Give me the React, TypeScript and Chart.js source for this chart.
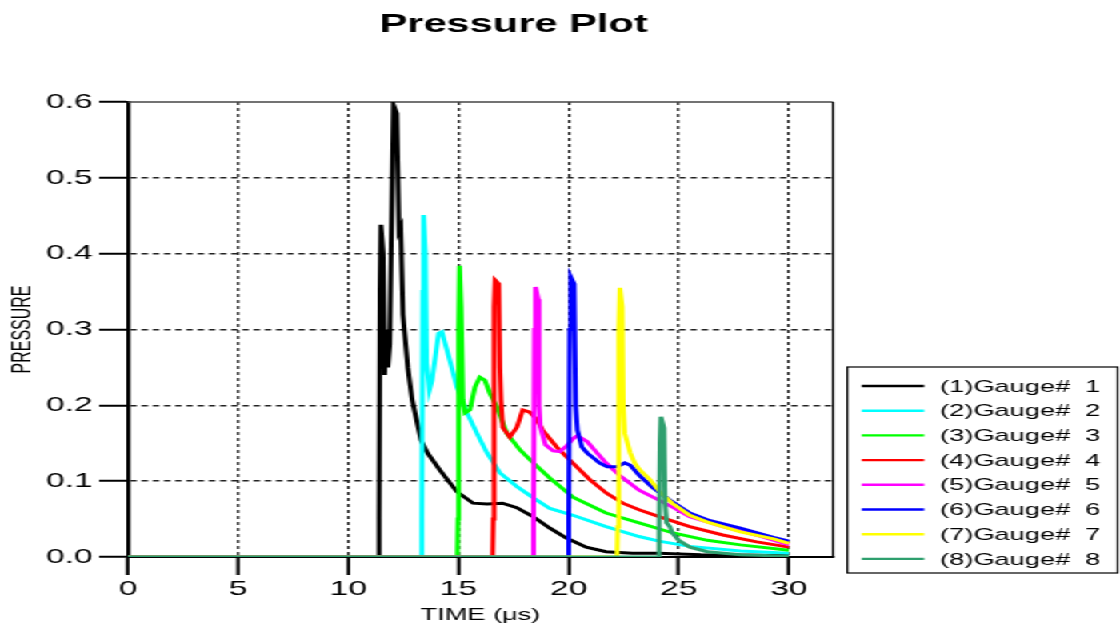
import React, { useEffect, useRef } from 'react';
import { Chart, registerables } from 'chart.js';

Chart.register(...registerables);

const TITLE = 'Pressure Plot';
const X_TITLE = 'TIME (μs)';
const Y_TITLE = 'PRESSURE';
const X_MIN = 0;
const X_MAX = 32;
const X_STEP = 5;
const Y_MIN = 0;
const Y_MAX = 0.6;
const Y_STEP = 0.1;

const GAUGE_LABELS = [
  '(1)Gauge#  1',
  '(2)Gauge#  2',
  '(3)Gauge#  3',
  '(4)Gauge#  4',
  '(5)Gauge#  5',
  '(6)Gauge#  6',
  '(7)Gauge#  7',
  '(8)Gauge#  8',
];
const GAUGE_COLORS = ['#000000', '#00FFFF', '#00FF00', '#FF0000', '#FF00FF', '#0000FF', '#FFFF00', '#2E9F6E'];

const g1Time = [0, 11.36, 11.4, 11.44, 11.48, 11.58, 11.65, 11.72, 11.8, 11.88, 11.95, 12.05, 12.2, 12.3, 12.38, 12.48, 12.7, 12.9, 13.3, 13.6, 14.15, 14.93, 15.66, 16.3, 17.0, 17.65, 18.4, 19.15, 19.9, 20.8, 21.7, 22.9, 24.1, 26.0, 30.0];
const g1Pressure = [0, 0, 0.05, 0.35, 0.438, 0.4, 0.24, 0.3, 0.25, 0.28, 0.417, 0.596, 0.585, 0.43, 0.435, 0.32, 0.25, 0.207, 0.154, 0.137, 0.115, 0.086, 0.071, 0.07, 0.071, 0.065, 0.053, 0.038, 0.025, 0.013, 0.007, 0.005, 0.005, 0.003, 0.002];

const g2Time = [0, 13.3, 13.34, 13.38, 13.42, 13.5, 13.55, 13.68, 13.8, 14.1, 14.25, 14.6, 14.93, 15.39, 15.84, 16.3, 16.88, 17.65, 18.4, 19.15, 20.2, 21.7, 23.2, 24.1, 25.5, 27.8, 30.0];
const g2Pressure = [0, 0, 0.05, 0.35, 0.451, 0.4, 0.256, 0.22, 0.233, 0.295, 0.297, 0.26, 0.224, 0.19, 0.163, 0.137, 0.111, 0.093, 0.078, 0.064, 0.055, 0.04, 0.027, 0.021, 0.014, 0.008, 0.005];

const g3Time = [0, 14.95, 14.98, 15.01, 15.05, 15.12, 15.2, 15.3, 15.52, 15.75, 15.97, 16.2, 16.42, 16.74, 17.2, 17.8, 18.4, 19.15, 20.2, 21.7, 23.2, 24.7, 26.3, 27.8, 30.0];
const g3Pressure = [0, 0, 0.05, 0.3, 0.384, 0.33, 0.207, 0.19, 0.194, 0.224, 0.237, 0.233, 0.216, 0.198, 0.163, 0.141, 0.124, 0.104, 0.079, 0.058, 0.045, 0.032, 0.022, 0.016, 0.009];

const g4Time = [0, 16.55, 16.58, 16.62, 16.66, 16.83, 16.88, 16.93, 17.01, 17.33, 17.65, 17.92, 18.24, 18.56, 18.83, 19.46, 20.19, 20.96, 21.73, 22.46, 23.23, 24.14, 25.5, 27.0, 28.54, 30.0];
const g4Pressure = [0, 0, 0.05, 0.33, 0.365, 0.36, 0.25, 0.207, 0.171, 0.158, 0.171, 0.194, 0.191, 0.181, 0.167, 0.145, 0.124, 0.102, 0.084, 0.071, 0.062, 0.053, 0.04, 0.029, 0.02, 0.013];

const g5Time = [0, 18.38, 18.41, 18.45, 18.5, 18.62, 18.66, 18.72, 18.95, 19.3, 19.6, 19.9, 20.2, 20.4, 20.85, 21.3, 21.7, 22.3, 23.2, 24.1, 24.7, 25.5, 27.0, 28.5, 30.0];
const g5Pressure = [0, 0, 0.05, 0.3, 0.356, 0.34, 0.2, 0.171, 0.148, 0.14, 0.139, 0.146, 0.156, 0.16, 0.152, 0.137, 0.124, 0.108, 0.088, 0.075, 0.066, 0.053, 0.04, 0.029, 0.016];

const g6Time = [0, 19.98, 20.01, 20.05, 20.1, 20.25, 20.32, 20.4, 20.6, 20.85, 21.15, 21.4, 21.75, 22.2, 22.55, 22.8, 23.2, 23.8, 24.7, 25.5, 26.3, 27.8, 29.3, 30.0];
const g6Pressure = [0, 0, 0.05, 0.3, 0.369, 0.36, 0.2, 0.167, 0.145, 0.137, 0.13, 0.124, 0.119, 0.119, 0.124, 0.121, 0.108, 0.092, 0.073, 0.058, 0.049, 0.038, 0.026, 0.021];

const g7Time = [0, 22.2, 22.23, 22.28, 22.33, 22.43, 22.48, 22.55, 22.8, 23.0, 23.23, 23.7, 24.14, 24.7, 25.5, 26.3, 27.8, 29.3, 30.0];
const g7Pressure = [0, 0, 0.04, 0.3, 0.355, 0.33, 0.2, 0.163, 0.137, 0.124, 0.115, 0.102, 0.086, 0.071, 0.055, 0.046, 0.033, 0.024, 0.018];

const g8Time = [0, 24.08, 24.11, 24.15, 24.19, 24.33, 24.38, 24.45, 24.6, 24.7, 25.0, 25.5, 26.3, 27.8, 30.0];
const g8Pressure = [0, 0, 0.03, 0.15, 0.185, 0.17, 0.07, 0.045, 0.04, 0.032, 0.022, 0.013, 0.007, 0.003, 0.001];

const SERIES_TIME = [g1Time, g2Time, g3Time, g4Time, g5Time, g6Time, g7Time, g8Time];
const SERIES_PRESSURE = [g1Pressure, g2Pressure, g3Pressure, g4Pressure, g5Pressure, g6Pressure, g7Pressure, g8Pressure];

// Canvas is drawn narrow and stretched horizontally, as in the reference picture.
const CANVAS_W = 700;
const CANVAS_H = 630;
const STRETCH_X = 1.6;
const FONT = "'Liberation Sans', Arial, Helvetica, sans-serif";

const zip = (t: number[], p: number[]) => {
  const n = Math.min(t.length, p.length);
  const out: { x: number; y: number }[] = [];
  for (let i = 0; i < n; i++) out.push({ x: t[i], y: p[i] });
  return out;
};

const decorPlugin = {
  id: 'decor',
  beforeDatasetsDraw(chart: any) {
    const { ctx, chartArea } = chart;
    const { left, right, top, bottom } = chartArea;
    ctx.save();
    ctx.strokeStyle = '#444';
    ctx.lineWidth = 1.5;
    ctx.beginPath();
    ctx.moveTo(left, top);
    ctx.lineTo(right, top);
    ctx.stroke();
    ctx.strokeStyle = '#000';
    ctx.lineWidth = 1.3;
    ctx.beginPath();
    ctx.moveTo(right, top);
    ctx.lineTo(right, bottom);
    ctx.stroke();
    ctx.restore();
  },
  afterDraw(chart: any) {
    const { ctx, chartArea } = chart;
    ctx.save();
    ctx.fillStyle = '#000';
    ctx.font = `bold 26px ${FONT}`;
    ctx.textAlign = 'center';
    ctx.textBaseline = 'alphabetic';
    ctx.fillText(TITLE, 321, 32);

    const bx = chartArea.right + 9;
    const by = 367;
    const bw = CANVAS_W - 1.5 - bx;
    const bh = 206;
    ctx.strokeStyle = '#000';
    ctx.lineWidth = 1.2;
    ctx.strokeRect(bx, by, bw, bh);
    ctx.font = `17px ${FONT}`;
    ctx.textAlign = 'left';
    ctx.textBaseline = 'middle';
    chart.data.datasets.forEach((ds: any, i: number) => {
      const y = 386 + i * 24.7;
      ctx.strokeStyle = ds.borderColor;
      ctx.lineWidth = 2.4;
      ctx.beginPath();
      ctx.moveTo(bx + 9, y);
      ctx.lineTo(bx + 48, y);
      ctx.stroke();
      ctx.fillStyle = '#000';
      ctx.fillText(ds.label, bx + 58, y + 1);
    });
    ctx.restore();
  },
};

export default function App() {
  const canvasRef = useRef<HTMLCanvasElement | null>(null);

  useEffect(() => {
    const canvas = canvasRef.current;
    if (!canvas) return;
    const datasets = SERIES_TIME.map((t, i) => ({
      label: GAUGE_LABELS[i],
      data: zip(t, SERIES_PRESSURE[i]),
      borderColor: GAUGE_COLORS[i],
      backgroundColor: GAUGE_COLORS[i],
      borderWidth: 3,
      pointRadius: 0,
      tension: 0,
      fill: false,
      order: SERIES_TIME.length - 1 - i,
    }));

    const chart = new Chart(canvas, {
      type: 'line',
      data: { datasets },
      plugins: [decorPlugin],
      options: {
        animation: false,
        responsive: false,
        devicePixelRatio: 1,
        layout: { padding: { top: 102, right: 179.4, bottom: 0, left: 0 } },
        plugins: {
          legend: { display: false },
          title: { display: false },
          tooltip: { enabled: false },
        },
        scales: {
          x: {
            type: 'linear',
            min: X_MIN,
            max: X_MAX,
            afterFit: (scale: any) => {
              scale.height = 73;
            },
            ticks: {
              stepSize: X_STEP,
              includeBounds: false,
              autoSkip: false,
              maxRotation: 0,
              padding: 2,
              color: '#000',
              font: { family: FONT, size: 21 },
            },
            grid: {
              color: (c: any) => (c.tick && c.tick.value > 0.001 ? '#222' : 'rgba(0,0,0,0)'),
              lineWidth: 1.5,
              tickLength: 18,
              tickWidth: 2.2,
              tickColor: '#000',
              tickBorderDash: [],
            },
            border: { display: true, color: '#000', width: 2, dash: [3, 3] },
            title: {
              display: true,
              text: X_TITLE,
              color: '#000',
              font: { family: FONT, size: 17 },
              padding: { top: 0, bottom: 4 },
            },
          },
          y: {
            type: 'linear',
            min: Y_MIN,
            max: Y_MAX,
            afterFit: (scale: any) => {
              scale.width = 80;
            },
            ticks: {
              stepSize: Y_STEP,
              padding: 4,
              color: '#000',
              font: { family: FONT, size: 21 },
              callback: (v: any) => Number(v).toFixed(1),
            },
            grid: {
              color: (c: any) =>
                c.tick && c.tick.value > 0.001 && c.tick.value < Y_MAX - 0.001 ? '#222' : 'rgba(0,0,0,0)',
              lineWidth: 1.5,
              tickLength: 18,
              tickWidth: 2,
              tickColor: '#000',
              tickBorderDash: [],
            },
            border: { display: true, color: '#000', width: 2.5, dash: [4, 3] },
            title: {
              display: true,
              text: Y_TITLE,
              color: '#000',
              font: { family: FONT, size: 16 },
              padding: { top: 5, bottom: 0 },
            },
          },
        },
      } as any,
    });

    return () => chart.destroy();
  }, []);

  return (
    <div
      style={{
        position: 'fixed',
        left: 0,
        top: 0,
        width: CANVAS_W,
        height: CANVAS_H,
        transform: `scaleX(${STRETCH_X})`,
        transformOrigin: '0 0',
        background: '#fff',
      }}
    >
      <canvas ref={canvasRef} width={CANVAS_W} height={CANVAS_H} />
    </div>
  );
}
